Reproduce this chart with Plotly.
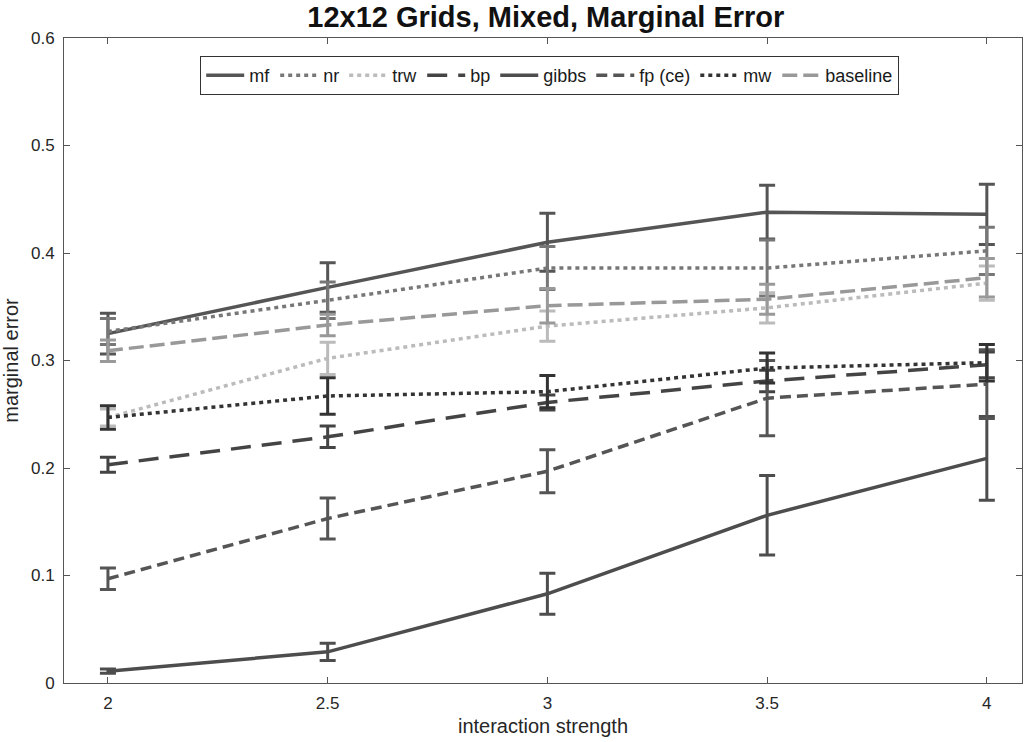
import plotly.graph_objects as go

x_vals = [2, 2.5, 3, 3.5, 4]
series_names = ["mf", "nr", "trw", "bp", "gibbs", "fp (ce)", "mw", "baseline"]

mf = [0.325, 0.368, 0.410, 0.438, 0.436]
mf_err = [0.019, 0.023, 0.027, 0.025, 0.028]
nr = [0.327, 0.356, 0.386, 0.386, 0.402]
nr_err = [0.012, 0.017, 0.020, 0.026, 0.022]
trw = [0.247, 0.302, 0.332, 0.349, 0.372]
trw_err = [0.008, 0.015, 0.014, 0.014, 0.016]
bp = [0.203, 0.229, 0.261, 0.281, 0.296]
bp_err = [0.007, 0.010, 0.007, 0.010, 0.012]
gibbs = [0.011, 0.029, 0.083, 0.156, 0.209]
gibbs_err = [0.002, 0.008, 0.019, 0.037, 0.039]
fp_ce = [0.097, 0.153, 0.197, 0.265, 0.278]
fp_ce_err = [0.010, 0.019, 0.020, 0.035, 0.032]
mw = [0.247, 0.267, 0.271, 0.293, 0.298]
mw_err = [0.011, 0.017, 0.015, 0.014, 0.017]
baseline = [0.309, 0.333, 0.351, 0.357, 0.377]
baseline_err = [0.010, 0.010, 0.016, 0.014, 0.018]

values = [mf, nr, trw, bp, gibbs, fp_ce, mw, baseline]
errors = [mf_err, nr_err, trw_err, bp_err, gibbs_err, fp_ce_err, mw_err, baseline_err]
colors = ["#555555", "#777777", "#bbbbbb", "#444444", "#4d4d4d", "#555555", "#333333", "#999999"]
dashes = ["solid", "4px,4px", "4px,4px", "20px,11px", "solid", "11px,6px", "4px,4px", "15px,6px"]

fig = go.Figure()
for name, y, e, c, d in zip(series_names, values, errors, colors, dashes):
    fig.add_trace(go.Scatter(
        x=x_vals, y=y, name=name, mode="lines",
        line=dict(color=c, width=3.5, dash=d),
        error_y=dict(type="data", array=e, visible=True, color=c, thickness=3, width=8),
    ))

font_family = "Liberation Sans, Arial, sans-serif"
axis_common = dict(
    showgrid=False, zeroline=False, showline=True, linecolor="#555555", linewidth=1,
    mirror="ticks", ticks="inside", ticklen=6, tickcolor="#555555",
    tickfont=dict(size=17, color="#262626", family=font_family),
)

fig.update_layout(
    width=1024, height=742,
    margin=dict(l=64, r=2, t=38, b=59),
    paper_bgcolor="white", plot_bgcolor="white",
    title=dict(text="<b>12x12 Grids, Mixed, Marginal Error</b>", x=0.533, xanchor="center",
               y=0.977, yanchor="middle",
               font=dict(size=29, color="#111111", family=font_family)),
    xaxis=dict(range=[1.9, 4.08], tickvals=[2, 2.5, 3, 3.5, 4], ticktext=["2", "2.5", "3", "3.5", "4"],
               ticklabelstandoff=5,
               title=dict(text="interaction strength", font=dict(size=20, color="#262626", family=font_family), standoff=6),
               **axis_common),
    yaxis=dict(range=[0, 0.6], tickvals=[0, 0.1, 0.2, 0.3, 0.4, 0.5, 0.6],
               ticktext=["0", "0.1", "0.2", "0.3", "0.4", "0.5", "0.6"],
               ticklabelstandoff=5,
               title=dict(text="marginal error", font=dict(size=20, color="#262626", family=font_family), standoff=6),
               **axis_common),
    legend=dict(orientation="h", x=0.507, xanchor="center", y=0.972, yanchor="top",
                bgcolor="white", bordercolor="#333333", borderwidth=1,
                font=dict(size=18, color="#1a1a1a", family=font_family),
                itemwidth=38, tracegroupgap=0),
    showlegend=True,
)

fig.write_html("out.html")
